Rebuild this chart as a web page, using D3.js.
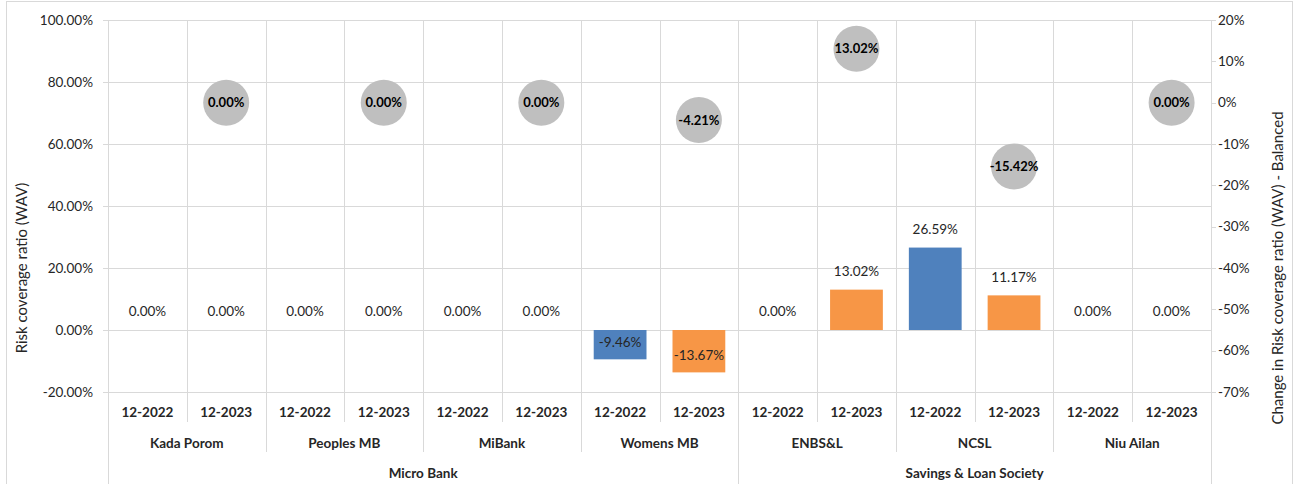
<!DOCTYPE html>
<html>
<head>
<meta charset="utf-8">
<script src="https://cdn.jsdelivr.net/npm/d3@7/dist/d3.min.js"></script>
<style>
  html, body { margin: 0; padding: 0; background: #fff; }
  svg { display: block; font-family: Lato, "Liberation Sans", sans-serif; }
</style>
</head>
<body>
<svg id="chart" width="1296" height="484"></svg>
<script>
// ---- data ----
const institutions = ["Kada Porom", "Peoples MB", "MiBank", "Womens MB", "ENBS&L", "NCSL", "Niu Ailan"];
const institutionTypes = ["Micro Bank", "Micro Bank", "Micro Bank", "Micro Bank", "Savings & Loan Society", "Savings & Loan Society", "Savings & Loan Society"];
const periods = ["12-2022", "12-2023"];
const ratio2022 = [0.00, 0.00, 0.00, -9.46, 0.00, 26.59, 0.00];
const ratio2023 = [0.00, 0.00, 0.00, -13.67, 13.02, 11.17, 0.00];
const changeBalanced = [0.00, 0.00, 0.00, -4.21, 13.02, -15.42, 0.00];
const leftTicks = [-20, 0, 20, 40, 60, 80, 100];
const rightTicks = [20, 10, 0, -10, -20, -30, -40, -50, -60, -70];
const seriesColors = { "12-2022": "#4f81bd", "12-2023": "#f79646" };

(function () {
const loc = d3.formatLocale({ decimal: ".", thousands: ",", grouping: [3], currency: ["$", ""], minus: "-" });
const f2 = loc.format(".2f");
const f0 = loc.format("d");

// ---- build table ----
const rows = [];
institutions.forEach((inst, i) => {
  periods.forEach((p, j) => {
    rows.push({
      key: inst + "|" + p, inst, type: institutionTypes[i], period: p,
      value: j === 0 ? ratio2022[i] : ratio2023[i],
      change: j === 1 ? changeBalanced[i] : null
    });
  });
});

const svg = d3.select("#chart");
const pLeft = 108, pRight = 1211, pTop = 20, pBottom = 392;
const gridColor = "#d9d9d9";
const textColor = "#262626";

// outer chart border
svg.append("rect").attr("x", 6.5).attr("y", 1.5).attr("width", 1286).attr("height", 500)
  .attr("fill", "none").attr("stroke", gridColor);

const x = d3.scaleBand().domain(rows.map(d => d.key)).range([pLeft, pRight]).padding(0);
const xBar = d3.scaleBand().domain(rows.map(d => d.key)).range([pLeft, pRight]).paddingInner(0.33).paddingOuter(0.165);
const yL = d3.scaleLinear().domain([-20, 100]).range([pBottom, pTop]);
const yR = d3.scaleLinear().domain([-70, 20]).range([pBottom, pTop]);

// horizontal gridlines (with small outside ticks)
svg.append("g").selectAll("line").data(leftTicks).join("line")
  .attr("x1", pLeft - 5).attr("x2", pRight)
  .attr("y1", d => Math.round(yL(d)) + 0.5).attr("y2", d => Math.round(yL(d)) + 0.5)
  .attr("stroke", gridColor);

// right axis ticks
svg.append("g").selectAll("line").data(rightTicks).join("line")
  .attr("x1", pRight).attr("x2", pRight + 5)
  .attr("y1", d => Math.round(yR(d)) + 0.5).attr("y2", d => Math.round(yR(d)) + 0.5)
  .attr("stroke", gridColor);

// vertical boundaries: gridlines + multi-level category ticks
const n = rows.length;
const bounds = d3.range(n + 1);
svg.append("g").selectAll("line").data(bounds).join("line")
  .attr("x1", i => Math.round(i < n ? x(rows[i].key) : pRight) + 0.5)
  .attr("x2", i => Math.round(i < n ? x(rows[i].key) : pRight) + 0.5)
  .attr("y1", pTop)
  .attr("y2", i => {
    if (i === 0 || i === n) return 484;
    const prev = rows[i - 1], cur = rows[i];
    if (prev.type !== cur.type) return 484;
    if (prev.inst !== cur.inst) return 452;
    return 422;
  })
  .attr("stroke", gridColor);

// left axis labels
svg.append("g").selectAll("text").data(leftTicks).join("text")
  .attr("x", 93).attr("y", d => yL(d)).attr("dy", "0.35em")
  .attr("text-anchor", "end").attr("font-size", 13.5).attr("fill", textColor)
  .text(d => f2(d) + "%");

// right axis labels
svg.append("g").selectAll("text").data(rightTicks).join("text")
  .attr("x", 1218).attr("y", d => yR(d)).attr("dy", "0.35em")
  .attr("text-anchor", "start").attr("font-size", 13.5).attr("fill", textColor)
  .text(d => f0(d) + "%");

// axis titles
svg.append("text").attr("transform", "translate(22,268) rotate(-90)")
  .attr("text-anchor", "middle").attr("dy", "0.35em").attr("font-size", 15).attr("fill", textColor)
  .text("Risk coverage ratio (WAV)");
svg.append("text").attr("transform", "translate(1278,268) rotate(-90)")
  .attr("text-anchor", "middle").attr("dy", "0.35em").attr("font-size", 15).attr("fill", textColor)
  .text("Change in Risk coverage ratio (WAV) - Balanced");

// bars
svg.append("g").selectAll("rect").data(rows).join("rect")
  .attr("x", d => xBar(d.key)).attr("width", xBar.bandwidth())
  .attr("y", d => yL(Math.max(0, d.value)))
  .attr("height", d => Math.abs(yL(d.value) - yL(0)))
  .attr("fill", d => seriesColors[d.period]);

// bar labels
svg.append("g").selectAll("text").data(rows).join("text")
  .attr("x", d => x(d.key) + x.bandwidth() / 2)
  .attr("y", d => d.value >= 0 ? yL(d.value) - 18.5 : yL(d.value) - 17)
  .attr("dy", "0.35em").attr("text-anchor", "middle")
  .attr("font-size", 13.5).attr("fill", textColor)
  .text(d => f2(d.value) + "%");

// change bubbles
const bub = rows.filter(d => d.change !== null);
svg.append("g").selectAll("circle").data(bub).join("circle")
  .attr("cx", d => x(d.key) + x.bandwidth() / 2)
  .attr("cy", d => yR(d.change)).attr("r", 23)
  .attr("fill", "#bfbfbf");
svg.append("g").selectAll("text").data(bub).join("text")
  .attr("x", d => x(d.key) + x.bandwidth() / 2)
  .attr("y", d => yR(d.change)).attr("dy", "0.35em")
  .attr("text-anchor", "middle").attr("font-size", 13).attr("font-weight", "bold").attr("fill", "#000")
  .text(d => f2(d.change) + "%");

// category labels level 1: periods
svg.append("g").selectAll("text").data(rows).join("text")
  .attr("x", d => x(d.key) + x.bandwidth() / 2).attr("y", 412).attr("dy", "0.35em")
  .attr("text-anchor", "middle").attr("font-size", 13.5).attr("font-weight", "bold").attr("fill", textColor)
  .text(d => d.period);

// level 2: institutions
const instGroups = d3.groups(rows, d => d.inst);
svg.append("g").selectAll("text").data(instGroups).join("text")
  .attr("x", g => (x(g[1][0].key) + x(g[1][g[1].length - 1].key) + x.bandwidth()) / 2)
  .attr("y", 443).attr("dy", "0.35em")
  .attr("text-anchor", "middle").attr("font-size", 13.5).attr("font-weight", "bold").attr("fill", textColor)
  .text(g => g[0]);

// level 3: types
const typeGroups = d3.groups(rows, d => d.type);
svg.append("g").selectAll("text").data(typeGroups).join("text")
  .attr("x", g => (x(g[1][0].key) + x(g[1][g[1].length - 1].key) + x.bandwidth()) / 2)
  .attr("y", 473).attr("dy", "0.35em")
  .attr("text-anchor", "middle").attr("font-size", 13.5).attr("font-weight", "bold").attr("fill", textColor)
  .text(g => g[0]);
})();
</script>
</body>
</html>
